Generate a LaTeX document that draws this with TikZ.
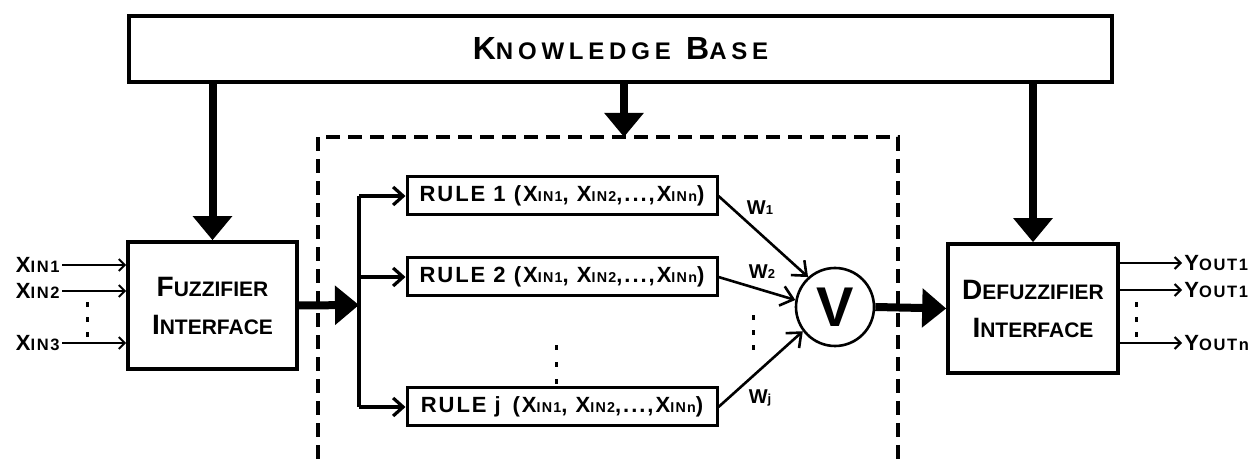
\documentclass[tikz,border=0pt]{standalone}
\usepackage{fontspec}
\setmainfont{Liberation Sans}
\usepackage{graphicx}
\usetikzlibrary{arrows.meta, positioning, calc}
% fake small capitals: first letter full size, the rest scaled down
\newcommand{\lowcap}[1]{\scalebox{0.75}{#1}}
\newcommand{\subcap}[1]{\scalebox{0.65}{#1}}

\begin{document}
\begin{tikzpicture}[x=0.5pt, y=-0.5pt,
    block/.style={draw, line width=1.8pt, fill=white, align=center, inner sep=0pt,
      font=\bfseries\fontsize{14}{19}\selectfont},
    rulebox/.style={draw, line width=1.5pt, minimum width=155pt, minimum height=19pt,
      inner sep=0pt, font=\bfseries\fontsize{11}{12}\selectfont\addfontfeature{LetterSpace=9}},
    thickarr/.style={line width=4pt, -{Triangle[width=19pt,length=12pt]}},
    thinarr/.style={line width=1pt, -{Straight Barb[length=3pt,width=6pt]}},
    rulearr/.style={line width=1.6pt, -{Straight Barb[length=5pt,width=9pt]}},
    warr/.style={line width=1.3pt, -{Straight Barb[length=6pt,width=10pt]}},
    iolbl/.style={font=\bfseries\fontsize{11}{12}\selectfont\addfontfeature{LetterSpace=10}, inner sep=1pt},
    wlbl/.style={font=\bfseries\fontsize{10}{11}\selectfont, inner sep=0pt}]
  \useasboundingbox (0,0) rectangle (1258,459);

  % blocks
  \node[block, minimum width=491.5pt, minimum height=33pt,
    font=\bfseries\fontsize{16}{18}\selectfont\addfontfeature{LetterSpace=20}]
    (kb) at (620.5,49) {K\lowcap{NOWLEDGE} B\lowcap{ASE}};
  \node[block, minimum width=84.5pt, minimum height=63.5pt] (fuzz) at (212.5,305.5)
    {F\lowcap{UZZIFIER}\\I\lowcap{NTERFACE}};
  \node[block, minimum width=85pt, minimum height=64.5pt] (defuz) at (1033,308.5)
    {D\lowcap{EFUZZIFIER}\\I\lowcap{NTERFACE}};

  % rule base (dashed frame)
  \coordinate (dtop) at (624,137);
  \draw[line width=2pt, dash pattern=on 7pt off 4pt] (318,459) -- (318,137) -- (898,137) -- (898,459);

  \node[rulebox] (rule1) at (562,196) {RULE 1 (X\subcap{IN1}, X\subcap{IN2},...,X\subcap{INn})};
  \node[rulebox] (rule2) at (562,277) {RULE 2 (X\subcap{IN1}, X\subcap{IN2},...,X\subcap{INn})};
  \node[rulebox] (rulej) at (562,407) {RULE j\, (X\subcap{IN1}, X\subcap{IN2},...,X\subcap{INn})};

  \node[circle, draw, line width=1.3pt, minimum size=39pt, inner sep=0pt,
    font=\bfseries\fontsize{28}{28}\selectfont] (sum) at (835,307) {V};

  % knowledge base feeds
  \draw[thickarr] (kb.south -| fuzz.north) -- (fuzz.north);
  \draw[thickarr] (kb.south -| dtop) -- (dtop);
  \draw[thickarr] (kb.south -| defuz.north) -- (defuz.north);

  % fan out to the rules
  \coordinate (branch) at (359,305);
  \draw[thickarr] (fuzz.east) -- (branch);
  \draw[line width=1.6pt] (rule1.west -| branch) -- (rulej.west -| branch);
  \foreach \r in {rule1, rule2, rulej}
    \draw[rulearr] (\r.west -| branch) -- (\r.west);

  % weighted rules into the aggregation
  \draw[warr] (rule1.east) -- (sum.132);
  \draw[warr] (rule2.east) -- (sum.170);
  \draw[warr] (rulej.east) -- (sum.217);
  \node[wlbl] (w1) at (760,208) {W\subcap{1}};
  \node[wlbl] (w2) at (762,272) {W\subcap{2}};
  \node[wlbl] (wj) at (760,398) {W\subcap{j}};

  \draw[thickarr] (sum.east) -- (defuz.west);

  % inputs
  \node[iolbl, anchor=east] (xin1) at (62,265) {X\lowcap{IN1}};
  \node[iolbl, anchor=east] (xin2) at (62,291) {X\lowcap{IN2}};
  \node[iolbl, anchor=east] (xin3) at (62,343) {X\lowcap{IN3}};
  \foreach \i in {xin1, xin2, xin3}
    \draw[thinarr] (\i.east) -- (\i.east -| fuzz.west);

  % outputs
  \node[iolbl, anchor=west] (yout1) at (1182,263) {Y\lowcap{OUT1}};
  \node[iolbl, anchor=west] (yout2) at (1182,290) {Y\lowcap{OUT1}};
  \node[iolbl, anchor=west] (youtn) at (1182,343) {Y\lowcap{OUTn}};
  \foreach \o in {yout1, yout2, youtn}
    \draw[thinarr] (\o.west -| defuz.east) -- (\o.west);

  % vertical dots
  \foreach \x/\y/\s in {87/302/15, 556/345/17, 753/315/15, 1136/302/15}
    \foreach \k in {0,1,2}
      \fill (\x-1.5,\y+\k*\s) rectangle ++(3,5);
\end{tikzpicture}
\end{document}
